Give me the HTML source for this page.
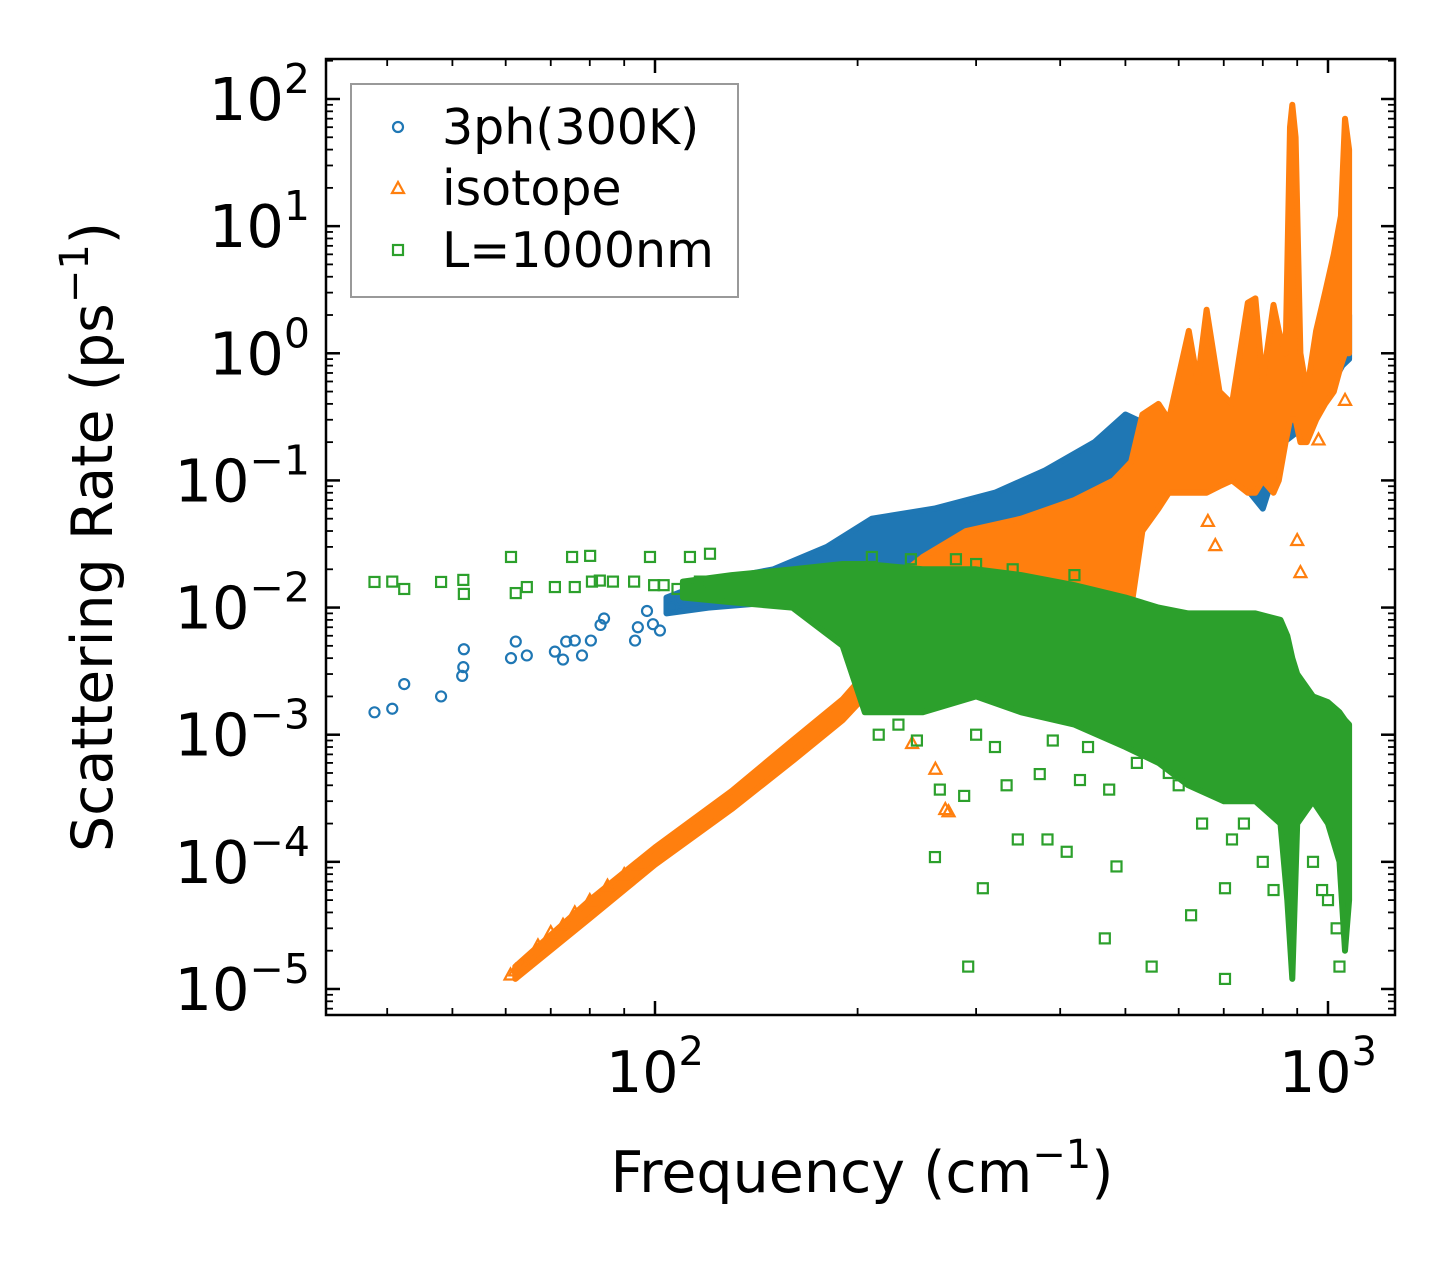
<!DOCTYPE html>
<html><head><meta charset="utf-8"><style>
html,body{margin:0;padding:0;background:#fff}
svg{display:block;font-family:"DejaVu Sans","Liberation Sans",sans-serif}
</style></head><body>
<svg id="chart" width="1455" height="1265" viewBox="0 0 1455 1265" xmlns="http://www.w3.org/2000/svg">
<rect x="0" y="0" width="1455" height="1265" fill="#fff"/>
<g id="marks"></g>
<g id="axes"></g>
<g id="legend">
<rect x="351" y="84" width="387" height="213" fill="#fff" stroke="#999" stroke-width="2"/>
<circle cx="398" cy="127" r="5" fill="none" stroke="#1f77b4" stroke-width="2.2"/>
<text x="442" y="144" font-size="49">3ph(300K)</text>
<polygon points="398,182 404,193 392,193" fill="none" stroke="#ff7f0e" stroke-width="2.2"/>
<text x="442" y="205" font-size="49">isotope</text>
<rect x="393" y="245" width="10" height="10" fill="none" stroke="#2ca02c" stroke-width="2.2"/>
<text x="442" y="267" font-size="49">L=1000nm</text>
</g>
<text x="862" y="1192" font-size="57" text-anchor="middle">Frequency (cm<tspan font-size="40" dy="-24">−1</tspan><tspan dy="24">)</tspan></text>
<text transform="translate(112,537) rotate(-90)" font-size="57" text-anchor="middle">Scattering Rate (ps<tspan font-size="40" dy="-24">−1</tspan><tspan dy="24">)</tspan></text>
</svg>
<script>
// ---- data (frequency in cm^-1, rate in ps^-1) ----
const blueFreq = [38.3,40.7,42.4,48.1,51.9,51.7,52,61.1,62.1,64.5,71,73,73.8,76,77.9,80.3,83,84,93.4,94.3,97.3,99.3,101.7,106,109];
const blueRate = [1.5e-3,1.6e-3,2.5e-3,2e-3,3.4e-3,2.9e-3,4.7e-3,4e-3,5.4e-3,4.2e-3,4.5e-3,3.9e-3,5.4e-3,5.5e-3,4.2e-3,5.5e-3,7.3e-3,8.2e-3,5.5e-3,7e-3,9.4e-3,7.4e-3,6.6e-3,1.0e-2,1.15e-2];
const blueBandFreq = [104,120,150,180,210,260,320,380,450,500,520,560,650,740,800,860,950,1050,1075];
const blueBandLow  = [0.009,0.010,0.011,0.012,0.012,0.012,0.015,0.02,0.03,0.05,0.06,0.08,0.1,0.1,0.06,0.2,0.3,0.8,0.9];
const blueBandHigh = [0.012,0.016,0.02,0.03,0.05,0.06,0.08,0.12,0.2,0.33,0.3,0.25,0.3,0.3,0.2,0.5,0.6,2.5,2.0];

const orangeFreq = [61,62,64,67,70,73,76,80,85,90,95,241,261,270,273,910,900,663,680,968,1060];
const orangeRate = [1.3e-5,1.4e-5,1.6e-5,2.2e-5,2.8e-5,3.2e-5,4e-5,5e-5,6.5e-5,8e-5,9.5e-5,8.6e-4,5.4e-4,2.6e-4,2.5e-4,0.019,0.034,0.048,0.031,0.21,0.43];
const orangeBandFreq = [62,80,100,130,160,190,205,210,250,290,350,420,480,510,530,560,580,621,640,660,690,720,760,780,800,830,845,865,878,885,895,910,930,960,990,1020,1045,1060,1075];
const orangeBandLow  = [1.2e-5,3.6e-5,9.5e-5,2.6e-4,6.2e-4,1.3e-3,2e-3,0.002,0.002,0.002,0.003,0.004,0.006,0.01,0.04,0.06,0.08,0.08,0.08,0.08,0.09,0.1,0.08,0.08,0.1,0.08,0.1,0.2,0.3,0.3,0.3,0.2,0.2,0.3,0.4,0.5,0.8,1,1];
const orangeBandHigh = [1.5e-5,5e-5,1.3e-4,3.6e-4,9e-4,1.9e-3,3e-3,0.012,0.025,0.04,0.05,0.07,0.1,0.14,0.33,0.4,0.3,1.5,0.6,2.2,0.5,0.4,2.5,2.7,0.6,2.4,1.5,1.0,60,90,50,1.0,0.5,1.5,3,6,12,70,40];

const greenFreq = [38.3,40.7,42.4,48.1,51.9,52,61.1,62.1,64.5,71,75.3,76,80.1,80.6,82.8,86.6,93.1,98.3,99.7,112.7,116.6,120.7,260.6,292,307,409,466,485,547,626,703,703,346,383,265,288,333,373,428,473,215,230,245,300,320,390,440,520,580,600,650,720,750,800,830,950,980,1000,1030,1040,210,240,280,300,340,420,103,108];
const greenRate = [0.0159,0.016,0.014,0.0159,0.0165,0.0128,0.025,0.013,0.0145,0.0145,0.025,0.0145,0.0255,0.016,0.0163,0.016,0.016,0.025,0.015,0.025,0.016,0.0265,1.09e-4,1.5e-5,6.2e-5,1.2e-4,2.5e-5,9.2e-5,1.5e-5,3.8e-5,1.2e-5,6.2e-5,1.5e-4,1.5e-4,3.7e-4,3.3e-4,4e-4,4.9e-4,4.4e-4,3.7e-4,1e-3,1.2e-3,9e-4,1e-3,8e-4,9e-4,8e-4,6e-4,5e-4,4e-4,2e-4,1.5e-4,2e-4,1e-4,6e-5,1e-4,6e-5,5e-5,3e-5,1.5e-5,0.025,0.024,0.024,0.022,0.02,0.018,0.015,0.014];
const greenBandFreq = [110,130,160,190,205,250,300,350,420,500,560,620,700,780,850,870,885,900,950,1000,1040,1060,1075];
const greenBandLow  = [0.012,0.011,0.010,0.005,0.0015,0.0015,0.002,0.0015,0.0012,0.0008,0.0006,0.0004,0.0003,0.0003,0.0002,0.00005,0.000012,0.0002,0.0003,0.0002,0.0001,0.00002,0.00005];
const greenBandHigh = [0.016,0.018,0.02,0.022,0.022,0.02,0.02,0.018,0.015,0.012,0.01,0.009,0.009,0.009,0.008,0.006,0.004,0.003,0.002,0.0018,0.0015,0.0013,0.0012];

const yTickExps = [-5,-4,-3,-2,-1,0,1,2];
const xTickExps = [2,3];

// ---- axis functions ----
const L=326,R=1395,T=59,B=1015;
const X0=655, XD=673, Y0=99, YD=127.14;
function xs(f){return X0+(Math.log10(f)-2)*XD;}
function ys(v){return Y0+(2-Math.log10(v))*YD;}
const NS='http://www.w3.org/2000/svg';
const C={blue:'#1f77b4',orange:'#ff7f0e',green:'#2ca02c'};
const marks=document.getElementById('marks');
const axes=document.getElementById('axes');
function mk(tag,attrs,parent){const e=document.createElementNS(NS,tag);for(const k in attrs)e.setAttribute(k,attrs[k]);parent.appendChild(e);return e;}

function band(fr,lo,hi,color,name){
  const pts=[];
  for(let i=0;i<fr.length;i++)pts.push(xs(fr[i]).toFixed(1)+','+ys(hi[i]).toFixed(1));
  for(let i=fr.length-1;i>=0;i--)pts.push(xs(fr[i]).toFixed(1)+','+ys(lo[i]).toFixed(1));
  const p=mk('polygon',{points:pts.join(' '),fill:color,stroke:color,'stroke-width':6,'stroke-linejoin':'round'},marks);
  
  
}
function pts(fr,rt,shape,color,name){
  for(let i=0;i<fr.length;i++){
    const x=xs(fr[i]),y=ys(rt[i]);let e;
    if(shape==='c')e=mk('circle',{cx:x,cy:y,r:5,fill:'none',stroke:color,'stroke-width':2.2},marks);
    else if(shape==='t')e=mk('polygon',{points:`${x},${y-6} ${x+6},${y+5} ${x-6},${y+5}`,fill:'none',stroke:color,'stroke-width':2.2},marks);
    else e=mk('rect',{x:x-5,y:y-5,width:10,height:10,fill:'none',stroke:color,'stroke-width':2.2},marks);
    
    
  }
}
band(blueBandFreq,blueBandLow,blueBandHigh,C.blue,'band-3ph');
pts(blueFreq,blueRate,'c',C.blue,'point-3ph');
band(orangeBandFreq,orangeBandLow,orangeBandHigh,C.orange,'band-isotope');
pts(orangeFreq,orangeRate,'t',C.orange,'point-isotope');
band(greenBandFreq,greenBandLow,greenBandHigh,C.green,'band-boundary');
pts(greenFreq,greenRate,'s',C.green,'point-boundary');

const defs=mk('defs',{},document.getElementById('chart'));
const cp=mk('clipPath',{id:'clip'},defs);
mk('rect',{x:L,y:T,width:R-L,height:B-T},cp);
marks.setAttribute('clip-path','url(#clip)');

const fr=mk('rect',{x:L,y:T,width:R-L,height:B-T,fill:'none',stroke:'#000','stroke-width':2.5},axes);



for(let e=-6;e<=2;e++){
  for(let m=1;m<10;m++){
    const v=m*Math.pow(10,e);const y=ys(v);
    if(y<T||y>B)continue;
    const len=m===1?14:7, w=m===1?2.5:1.8;
    const t1=mk('line',{x1:L,x2:L+len,y1:y,y2:y,stroke:'#000','stroke-width':w},axes);
    
    
    const t2=mk('line',{x1:R,x2:R-len,y1:y,y2:y,stroke:'#000','stroke-width':w},axes);
    
    
  }
}
yTickExps.forEach(e=>{
  const y=ys(Math.pow(10,e));
  const t=mk('text',{x:310,y:y+21,'font-size':59,'text-anchor':'end'},axes);
  
  
  const a=mk('tspan',{},t);a.textContent='10';
  const b=mk('tspan',{'font-size':41,dy:-27},t);b.textContent=(e<0?'−':'')+Math.abs(e);
});
for(let e=1;e<=3;e++){
  for(let m=1;m<10;m++){
    const f=m*Math.pow(10,e);const x=xs(f);
    if(x<L||x>R)continue;
    const len=m===1?14:7, w=m===1?2.5:1.8;
    const t1=mk('line',{x1:x,x2:x,y1:B,y2:B-len,stroke:'#000','stroke-width':w},axes);
    
    
    const t2=mk('line',{x1:x,x2:x,y1:T,y2:T+len,stroke:'#000','stroke-width':w},axes);
    
    
  }
}
xTickExps.forEach(e=>{
  const x=xs(Math.pow(10,e));
  const t=mk('text',{x:x,y:1092,'font-size':57,'text-anchor':'middle'},axes);
  
  
  const a=mk('tspan',{},t);a.textContent='10';
  const b=mk('tspan',{'font-size':40,dy:-27},t);b.textContent=String(e);
});
</script>
</body></html>
